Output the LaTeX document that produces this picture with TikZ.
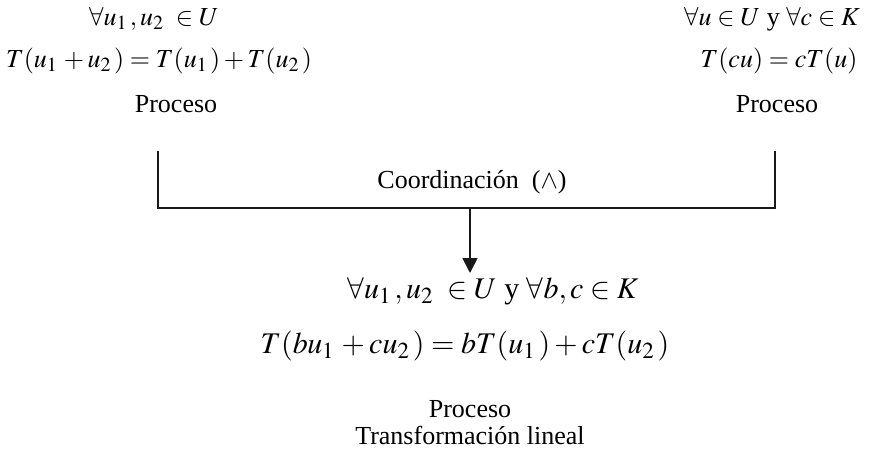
\documentclass[tikz,border=0pt]{standalone}
\usepackage{fontspec}
\usepackage{mathptmx}
\setmainfont{Liberation Serif}
\DeclareMathSizes{26}{26}{20}{15}
\DeclareMathSizes{30}{30}{23}{17}
\usetikzlibrary{arrows.meta}
\tikzset{
  txt/.style={inner sep=0pt, anchor=base, font=\fontsize{26}{30}\selectfont},
  bigm/.style={inner sep=0pt, anchor=base, font=\fontsize{30}{34}\selectfont},
  conn/.style={line width=1.8pt, draw=black!90},
  arr/.style={conn, -{Triangle[length=15pt,width=15pt]}}
}
\begin{document}
\begin{tikzpicture}[x=1pt,y=-1pt]
\useasboundingbox (0,0) rectangle (871,455);
% left
\node[txt] (l1) at (154,25) {$\forall u_1\,, u_2\ \in U$};
\node[txt] (l2) at (159,67) {$T(u_1\,+u_2\,)=T(u_1\,)+T(u_2\,)$};
\node[txt] (l3) at (176,112) {Proceso};
% right
\node[txt] (r1) at (772,25) {$\forall u \in U$ y $\forall c \in K$};
\node[txt] (r2) at (779,67) {$T(cu)=cT(u)$};
\node[txt] (r3) at (777,112) {Proceso};
% coordination
\node[txt] (co) at (472,188) {Coordinación\ \ ($\wedge$)};
\coordinate (L) at (158,151);
\coordinate (R) at (775,151);
\coordinate (LB) at (158,208);
\coordinate (RB) at (775,208);
\coordinate (M) at (470,208);
\coordinate (A) at (470,273);
\draw[conn] (L) -- (LB) -- (RB) -- (R);
\draw[arr] (M) -- (A);
% bottom
\node[bigm] (b1) at (493,298) {$\forall u_1\,, u_2\ \in U$ y $\forall b, c \in K$};
\node[bigm] (b2) at (465,353) {$T(bu_1\,+cu_2\,)=bT(u_1\,)+cT(u_2\,)$};
\node[txt] (b3) at (470,417) {Proceso};
\node[txt] (b4) at (470,444) {Transformación lineal};
\end{tikzpicture}
\end{document}
